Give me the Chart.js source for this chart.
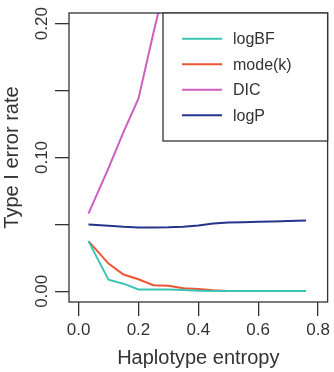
<!DOCTYPE html>
<html><head><meta charset="utf-8">
<script src="https://cdn.jsdelivr.net/npm/chart.js@4/dist/chart.umd.min.js"></script>
<style>html,body{margin:0;padding:0;background:#fff;overflow:hidden;}</style>
</head><body>
<canvas id="c" width="334" height="372"></canvas>
<script>
const entropy = [0.033, 0.1, 0.15, 0.2, 0.25, 0.3, 0.35, 0.4, 0.45, 0.5, 0.55, 0.6, 0.65, 0.7, 0.76];
const seriesNames = ['logBF', 'mode(k)', 'DIC', 'logP'];
const logBF = [0.0375, 0.0087, 0.0057, 0.0014, 0.0014, 0.0013, 0.0009, 0.0005, 0.0002, 0.0002, 0.0002, 0.0002, 0.0002, 0.0002, 0.0002];
const modeK = [0.0375, 0.0207, 0.0125, 0.0090, 0.0045, 0.0042, 0.0022, 0.0018, 0.0008, 0.0003, 0.0003, 0.0003, 0.0003, 0.0003, 0.0003];
const dic = [0.058, 0.092, 0.119, 0.144, 0.193, 0.240, null, null, null, null, null, null, null, null, null];
const logP = [0.0500, 0.0490, 0.0482, 0.0477, 0.0476, 0.0478, 0.0483, 0.0492, 0.0507, 0.0514, 0.0516, 0.0519, 0.0522, 0.0526, 0.0530];
const seriesColors = ['#3CC5B5', '#EE5533', '#CC5FC0', '#26348C'];
const xTicks = [0, 0.2, 0.4, 0.6, 0.8];
const xTickLabels = ['0.0', '0.2', '0.4', '0.6', '0.8'];
const yTicks = [0, 0.05, 0.1, 0.15, 0.2];
const yTickLabels = ['0.00', '', '0.10', '', '0.20'];
const xTitle = 'Haplotype entropy';
const yTitle = 'Type I error rate';

const FONT = '"Liberation Sans", Arial, Helvetica, sans-serif';
const INK = '#333';

const seriesValues = [logBF, modeK, dic, logP];
const datasets = seriesNames.map((name, i) => ({
  label: name,
  data: entropy.map((x, j) => ({x: x, y: seriesValues[i][j]})),
  borderColor: seriesColors[i],
  backgroundColor: seriesColors[i],
  borderWidth: 2,
  pointRadius: 0,
  tension: 0,
  fill: false
}));

const rPlot = {
  id: 'rPlot',
  afterDraw(chart) {
    const ctx = chart.ctx, ca = chart.chartArea;
    ctx.save();
    // plot box
    ctx.strokeStyle = INK;
    ctx.lineWidth = 1.3;
    ctx.strokeRect(ca.left, ca.top, ca.right - ca.left, ca.bottom - ca.top);
    // rotated y tick labels
    const ys = chart.scales.y;
    ctx.fillStyle = INK;
    ctx.font = '17px ' + FONT;
    ctx.textAlign = 'center';
    ctx.textBaseline = 'middle';
    yTicks.forEach((v, i) => {
      if (!yTickLabels[i]) return;
      const py = ys.getPixelForValue(v);
      ctx.save();
      ctx.translate(42, py);
      ctx.rotate(-Math.PI / 2);
      ctx.fillText(yTickLabels[i], 0, 0);
      ctx.restore();
    });
    // legend box
    const lx = 163, ly = ca.top, lw = ca.right - 163, lh = 141 - ca.top;
    ctx.fillStyle = '#fff';
    ctx.fillRect(lx, ly, lw, lh);
    ctx.strokeStyle = INK;
    ctx.lineWidth = 1.3;
    ctx.strokeRect(lx, ly, lw, lh);
    ctx.font = '16px ' + FONT;
    ctx.textAlign = 'left';
    ctx.textBaseline = 'middle';
    chart.data.datasets.forEach((ds, i) => {
      const yy = ly + 25.7 + i * 25.5;
      ctx.strokeStyle = ds.borderColor;
      ctx.lineWidth = 2;
      ctx.beginPath();
      ctx.moveTo(182, yy);
      ctx.lineTo(222, yy);
      ctx.stroke();
      ctx.fillStyle = INK;
      ctx.fillText(ds.label, 233, yy + 1);
    });
    ctx.restore();
  }
};

new Chart(document.getElementById('c'), {
  type: 'line',
  data: {datasets: datasets},
  options: {
    responsive: false,
    animation: false,
    devicePixelRatio: 1,
    layout: {padding: {top: 13, right: 4, left: 0, bottom: 0}},
    plugins: {legend: {display: false}, tooltip: {enabled: false}},
    scales: {
      x: {
        type: 'linear',
        min: -0.032, max: 0.832,
        afterBuildTicks: (s) => { s.ticks = xTicks.map(v => ({value: v})); },
        afterFit: (s) => { s.height = 70; },
        border: {display: false},
        grid: {display: true, drawOnChartArea: false, drawTicks: true, tickLength: 14, color: INK, lineWidth: 1.3},
        ticks: {
          color: INK, font: {family: FONT, size: 17}, padding: 4, maxRotation: 0,
          callback: (v) => { const k = xTicks.findIndex(t => Math.abs(t - v) < 1e-9); return k >= 0 ? xTickLabels[k] : ''; }
        },
        title: {display: true, text: xTitle, color: INK, font: {family: FONT, size: 20}, padding: {top: 0, bottom: 2}}
      },
      y: {
        type: 'linear',
        min: -0.008, max: 0.208,
        afterBuildTicks: (s) => { s.ticks = yTicks.map(v => ({value: v})); },
        afterFit: (s) => { s.width = 69; },
        border: {display: false},
        grid: {display: true, drawOnChartArea: false, drawTicks: true, tickLength: 14, color: INK, lineWidth: 1.3},
        ticks: {display: true, callback: () => '', font: {size: 1}},
        title: {display: true, text: yTitle, color: INK, font: {family: FONT, size: 20}, padding: {top: 0, bottom: 0}}
      }
    }
  },
  plugins: [rPlot]
});
</script>
</body></html>
